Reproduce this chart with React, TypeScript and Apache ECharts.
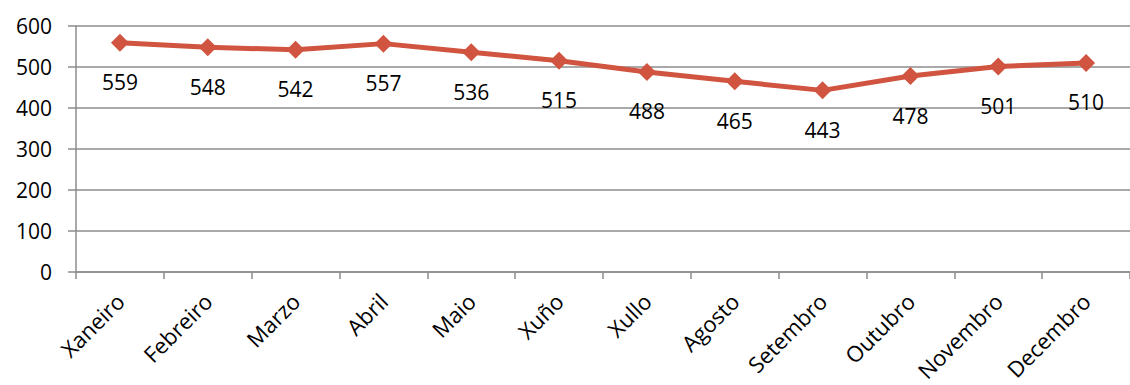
import React, { useEffect, useRef } from "react";
import * as echarts from "echarts";

const months = [
  "Xaneiro", "Febreiro", "Marzo", "Abril", "Maio", "Xuño",
  "Xullo", "Agosto", "Setembro", "Outubro", "Novembro", "Decembro",
];
const values = [559, 548, 542, 557, 536, 515, 488, 465, 443, 478, 501, 510];
const yTicks = [0, 100, 200, 300, 400, 500, 600];

const FONT = "'Open Sans', 'Noto Sans', sans-serif";

export default function App() {
  const ref = useRef<HTMLDivElement>(null);
  useEffect(() => {
    if (!ref.current) return;
    const chart = echarts.init(ref.current, undefined, { renderer: "svg" });
    chart.setOption({
      animation: false,
      backgroundColor: "#ffffff",
      grid: { left: 76, top: 26, right: -12, bottom: 113, containLabel: false },
      xAxis: {
        type: "category",
        data: months,
        boundaryGap: true,
        axisLine: { show: true, lineStyle: { color: "#8c8c8c", width: 1.5 } },
        axisTick: { show: true, length: 7, alignWithLabel: false, lineStyle: { color: "#8c8c8c", width: 1.5 } },
        axisLabel: {
          rotate: 45,
          margin: 25,
          interval: 0,
          color: "#000",
          fontFamily: FONT,
          fontSize: 22,
        },
      },
      yAxis: {
        type: "value",
        min: yTicks[0],
        max: yTicks[yTicks.length - 1],
        interval: 100,
        axisLine: { show: true, lineStyle: { color: "#8c8c8c", width: 1.5 } },
        axisTick: { show: true, length: 8, lineStyle: { color: "#8c8c8c", width: 1.5 } },
        splitLine: { show: true, lineStyle: { color: "#8c8c8c", width: 1.5 } },
        axisLabel: {
          margin: 24,
          color: "#000",
          fontFamily: FONT,
          fontSize: 21,
        },
      },
      series: [
        {
          type: "line",
          data: values,
          symbol: "diamond",
          symbolSize: 18,
          lineStyle: { color: "#d0543f", width: 5 },
          itemStyle: { color: "#d0543f" },
          label: {
            show: true,
            position: "bottom",
            distance: 20,
            color: "#000",
            fontFamily: FONT,
            fontSize: 21,
          },
        },
      ],
    });
    return () => chart.dispose();
  }, []);
  return (
    <div
      ref={ref}
      style={{ position: "fixed", left: 0, top: 0, width: 1130, height: 385 }}
    />
  );
}
